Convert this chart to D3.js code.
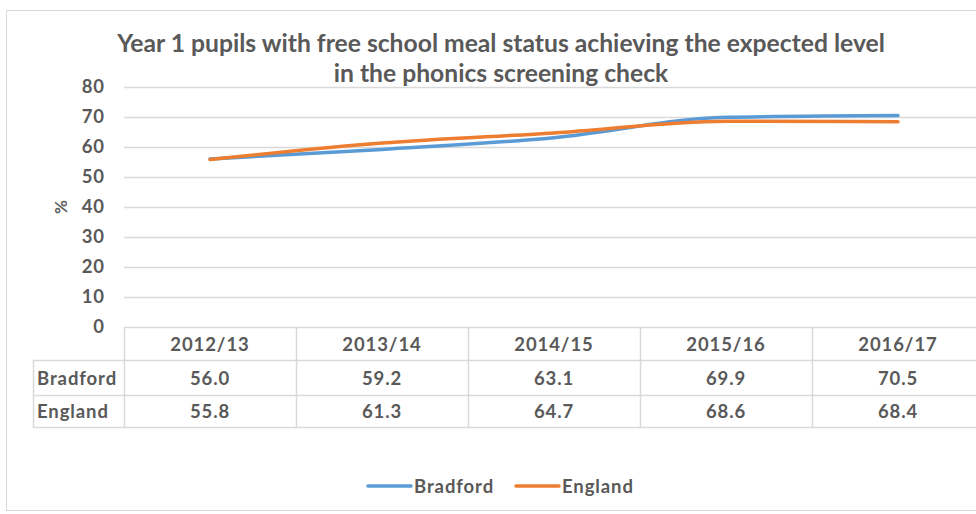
<!DOCTYPE html>
<html>
<head>
<meta charset="utf-8">
<script src="https://cdn.jsdelivr.net/npm/d3@7"></script>
<style>
  html, body { margin: 0; padding: 0; background: #fff; overflow: hidden; }
  svg { display: block; font-family: Lato, "Open Sans", sans-serif; }
</style>
</head>
<body>
<svg id="chart" width="976" height="514"></svg>
<script>
const categories = ["2012/13", "2013/14", "2014/15", "2015/16", "2016/17"];
const bradford = [56.0, 59.2, 63.1, 69.9, 70.5];
const england = [55.8, 61.3, 64.7, 68.6, 68.4];
const yTicks = [0, 10, 20, 30, 40, 50, 60, 70, 80];
const seriesNames = ["Bradford", "England"];
const seriesColors = ["#5B9BD5", "#ED7D31"];
const titleLines = ["Year 1 pupils with free school meal status achieving the expected level", "in the phonics screening check"];

const series = [
  { name: seriesNames[0], values: bradford, color: seriesColors[0] },
  { name: seriesNames[1], values: england, color: seriesColors[1] }
];

const svg = d3.select("#chart");
const textColor = "#595959";
const gridColor = "#d9d9d9";
const fsz = 18.5;
const ls = "0.9px";

// chart frame
svg.append("rect").attr("x", 6.5).attr("y", 10.5).attr("width", 1000).attr("height", 500)
  .attr("fill", "#fff").attr("stroke", "#d9d9d9").attr("stroke-width", 1);

const plotLeft = 124, plotRight = 984, plotTop = 87, plotBottom = 327;
const x = d3.scaleBand().domain(categories).range([plotLeft, plotRight]).padding(0);
const y = d3.scaleLinear().domain([0, 80]).range([plotBottom, plotTop]);

// gridlines
svg.append("g").selectAll("line").data(yTicks.filter(d => d > 0)).join("line")
  .attr("x1", plotLeft).attr("x2", plotRight)
  .attr("y1", d => Math.round(y(d)) + 0.5).attr("y2", d => Math.round(y(d)) + 0.5)
  .attr("stroke", gridColor).attr("stroke-width", 1.5);

// y axis labels
const yAxis = d3.axisLeft(y).tickValues(yTicks).tickSize(0).tickPadding(19);
const yg = svg.append("g").attr("transform", `translate(${plotLeft},0)`).call(yAxis);
yg.select(".domain").remove();
yg.selectAll("text").attr("fill", textColor).attr("font-size", fsz).attr("font-weight", "bold")
  .attr("font-family", "Lato, sans-serif").style("letter-spacing", ls);

// y axis title
svg.append("text").attr("transform", "translate(67,207) rotate(-90)")
  .attr("text-anchor", "middle").attr("fill", textColor).attr("font-size", 17).attr("font-weight", "bold")
  .text("%");

// title
const title = svg.append("g");
const tl1 = title.append("text").attr("x", 501).attr("y", 52).attr("text-anchor", "middle")
  .attr("fill", textColor).attr("font-size", 20).attr("font-weight", "bold").text(titleLines[0]);
const w1 = tl1.node().getComputedTextLength();
const fs = 20 * 768 / w1;
tl1.attr("font-size", fs);
title.append("text").attr("x", 501).attr("y", 82).attr("text-anchor", "middle")
  .attr("fill", textColor).attr("font-size", fs).attr("font-weight", "bold").text(titleLines[1]);

// data table
const rowTops = [327, 360, 395, 427];
const labelLeft = 33;
const tg = svg.append("g");
tg.append("line").attr("x1", plotLeft).attr("x2", plotRight).attr("y1", rowTops[0] + 0.5).attr("y2", rowTops[0] + 0.5)
  .attr("stroke", gridColor).attr("stroke-width", 1.5);
[1, 2, 3].forEach(i => {
  tg.append("line").attr("x1", labelLeft).attr("x2", plotRight).attr("y1", rowTops[i] + 0.5).attr("y2", rowTops[i] + 0.5)
    .attr("stroke", gridColor).attr("stroke-width", 1.5);
});
tg.append("line").attr("x1", labelLeft + 0.5).attr("x2", labelLeft + 0.5).attr("y1", rowTops[1]).attr("y2", rowTops[3])
  .attr("stroke", gridColor).attr("stroke-width", 1.5);
categories.forEach(c => {
  tg.append("line").attr("x1", x(c) + 0.5).attr("x2", x(c) + 0.5).attr("y1", rowTops[0]).attr("y2", rowTops[3])
    .attr("stroke", gridColor).attr("stroke-width", 1.5);
});
tg.selectAll("text.cat").data(categories).join("text").attr("class", "cat")
  .attr("x", d => x(d) + x.bandwidth() / 2).attr("y", (rowTops[0] + rowTops[1]) / 2 + 7)
  .attr("text-anchor", "middle").attr("fill", textColor).attr("font-size", fsz).attr("font-weight", "bold")
  .style("letter-spacing", ls).text(d => d);
series.forEach((s, i) => {
  const cy = (rowTops[i + 1] + rowTops[i + 2]) / 2 + 7;
  tg.append("text").attr("x", labelLeft + 4).attr("y", cy).attr("fill", textColor)
    .attr("font-size", fsz).attr("font-weight", "bold").style("letter-spacing", ls).text(s.name);
  tg.selectAll(null).data(s.values).join("text")
    .attr("x", (d, j) => x(categories[j]) + x.bandwidth() / 2).attr("y", cy)
    .attr("text-anchor", "middle").attr("fill", textColor).attr("font-size", fsz).attr("font-weight", "bold")
    .style("letter-spacing", ls).text(d => d.toFixed(1));
});

// lines
const line = d3.line()
  .x((d, j) => x(categories[j]) + x.bandwidth() / 2)
  .y(d => y(d))
  .curve(d3.curveMonotoneX);
svg.append("g").selectAll("path").data(series).join("path")
  .attr("d", d => line(d.values)).attr("fill", "none")
  .attr("stroke", d => d.color).attr("stroke-width", 3.5).attr("stroke-linecap", "round");

// legend
const legendItems = [{ s: series[0], x: 368 }, { s: series[1], x: 516 }];
const lg = svg.append("g");
legendItems.forEach(li => {
  lg.append("line").attr("x1", li.x).attr("x2", li.x + 43).attr("y1", 486).attr("y2", 486)
    .attr("stroke", li.s.color).attr("stroke-width", 3.5).attr("stroke-linecap", "round");
  lg.append("text").attr("x", li.x + 46).attr("y", 493).attr("fill", textColor)
    .attr("font-size", fsz).attr("font-weight", "bold").style("letter-spacing", ls).text(li.s.name);
});
</script>
</body>
</html>
